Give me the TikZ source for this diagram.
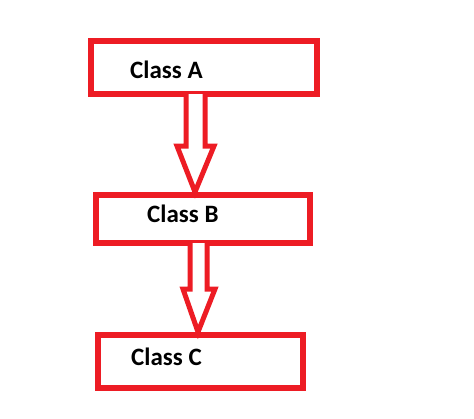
\documentclass[tikz,border=0pt]{standalone}
\usepackage{fontspec}
\setmainfont{Carlito}
\usetikzlibrary{calc}
\definecolor{pred}{HTML}{ED1C24}
\tikzset{
  classbox/.style={draw=pred, line width=6pt, rectangle, inner sep=0pt},
  classtext/.style={anchor=base west, inner sep=0pt, font=\bfseries\fontsize{25}{29}\selectfont, text=black},
  blockarrow/.style={draw=pred, line width=5pt, line join=miter, fill=white}
}
\begin{document}
\begin{tikzpicture}[x=1pt,y=-1pt]
\useasboundingbox (0,0) rectangle (474,418);
\node[classbox, minimum width=226pt, minimum height=53pt] (boxA) at (204,67.5) {};
\node[classbox, minimum width=214pt, minimum height=48pt] (boxB) at (203,219) {};
\node[classbox, minimum width=205pt, minimum height=53pt] (boxC) at (200.5,361.5) {};
\node[classtext] (tA) at (130,78) {Class A};
\node[classtext] (tB) at (147,222) {Class B};
\node[classtext] (tC) at (131,365) {Class C};
% arrow A -> B
\draw[blockarrow]
  ($(boxA.south west)+(98,-3)$) -- (186,146) -- (177,146) -- ($(boxB.north west)+(102,0)$)
  -- (214,146) -- (205,146) -- ($(boxA.south west)+(117,-3)$);
% arrow B -> C
\draw[blockarrow]
  ($(boxB.south west)+(97,-3)$) -- (190,289) -- (183,289) -- ($(boxC.north west)+(103,0)$)
  -- (215,289) -- (207,289) -- ($(boxB.south west)+(114,-3)$);
\end{tikzpicture}
\end{document}
